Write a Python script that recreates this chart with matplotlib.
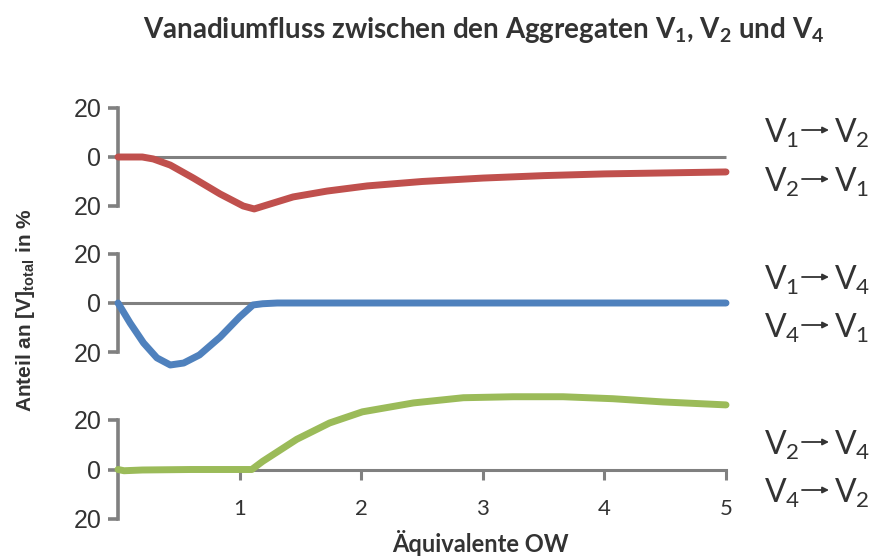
import matplotlib
matplotlib.use("Agg")
import matplotlib.pyplot as plt
from matplotlib.patches import FancyArrowPatch

# flux curves (x = equivalents OW, y = share of total V in %)
x_red = [0, 0.2, 0.29, 0.43, 0.62, 0.84, 1.03, 1.12, 1.25, 1.44, 1.72, 2.05, 2.5, 3.0, 3.5, 4.0, 4.5, 5.0]
y_red = [0, 0, -0.8, -3.3, -8.6, -15.1, -20, -21.2, -19.2, -16.3, -13.9, -11.8, -10.0, -8.6, -7.6, -6.9, -6.5, -6.1]

x_blue = [0, 0.1, 0.21, 0.32, 0.43, 0.54, 0.67, 0.84, 1.0, 1.11, 1.19, 1.31, 5.0]
y_blue = [0, -8.2, -16.3, -22.4, -25.3, -24.5, -21.2, -13.9, -5.7, -0.8, -0.3, 0, 0]

x_green = [0, 0.05, 0.2, 0.6, 1.1, 1.19, 1.47, 1.74, 2.01, 2.43, 2.84, 3.25, 3.66, 4.07, 4.48, 5.0]
y_green = [0, -0.5, -0.2, 0, 0, 3.3, 12.2, 18.8, 23.3, 26.9, 29, 29.4, 29.4, 28.6, 27.3, 26.1]

flux_labels = [("1", "2"), ("2", "1"), ("1", "4"), ("4", "1"), ("2", "4"), ("4", "2")]
xticks = [1, 2, 3, 4, 5]

grey = "#808080"
txt = "#333333"
colors = ["#C0504D", "#4F81BD", "#9BBB59"]

plt.rcParams["mathtext.fontset"] = "custom"
plt.rcParams["mathtext.rm"] = "Lato"
plt.rcParams["mathtext.bf"] = "Lato:bold"

fig = plt.figure(figsize=(8.76, 5.56), dpi=100)
W, H = 876, 556
left, right = 118, 726
panels = [(108, 206), (254, 352), (420, 519)]
curves = [(x_red, y_red), (x_blue, y_blue), (x_green, y_green)]

for i, ((top, bot), (xs, ys)) in enumerate(zip(panels, curves)):
    ax = fig.add_axes([left / W, 1 - bot / H, (right - left) / W, (bot - top) / H])
    ax.set_xlim(0, 5)
    ax.set_ylim(-20, 20)
    for s in ["top", "right", "bottom"]:
        ax.spines[s].set_visible(False)
    ax.spines["left"].set_color(grey)
    ax.spines["left"].set_linewidth(2.6)
    ax.set_yticks([20, 0, -20])
    ax.set_yticklabels(["20", "0", "20"], fontsize=18, color=txt, family="Liberation Sans")
    ax.tick_params(axis="y", length=7, width=2.6, color=grey, pad=5)
    ax.patch.set_alpha(0)
    if i < 2:
        # zero line across the panel
        ax.plot([0, 5], [0, 0], color=grey, lw=2.2, zorder=2, clip_on=False,
                solid_capstyle="butt")
        ax.set_xticks([])
    else:
        ax.spines["bottom"].set_visible(True)
        ax.spines["bottom"].set_position(("data", 0))
        ax.spines["bottom"].set_color(grey)
        ax.spines["bottom"].set_linewidth(2.2)
        ax.set_xticks(xticks)
        ax.set_xticklabels([str(t) for t in xticks], fontsize=16, color=txt, family="Lato")
        ax.tick_params(axis="x", length=7, width=2.2, color=grey, pad=14)
    ax.plot(xs, ys, color=colors[i], lw=5, zorder=3, clip_on=False,
            solid_capstyle="round", solid_joinstyle="round")

# flux labels on the right: V_a -> V_b
label_base = [143, 192, 290, 338, 455, 503]
for (a, b), yp in zip(flux_labels, label_base):
    yb = 1 - yp / H
    fig.text(764 / W, yb, r"V$_{%s}$" % a, fontsize=23, color=txt, family="Lato",
             va="baseline", ha="left")
    fig.text(834 / W, yb, r"V$_{%s}$" % b, fontsize=23, color=txt, family="Lato",
             va="baseline", ha="left")
    ya = 1 - (yp - 13) / H
    fig.add_artist(FancyArrowPatch((802 / W, ya), (829 / W, ya), transform=fig.transFigure,
                                   arrowstyle="-|>", mutation_scale=9, lw=1.3,
                                   color=txt, shrinkA=0, shrinkB=0))

fig.text(484 / W, 1 - 30 / H, r"Vanadiumfluss zwischen den Aggregaten V$_{\mathbf{1}}$, V$_{\mathbf{2}}$ und V$_{\mathbf{4}}$",
         fontsize=20, fontweight="bold", color=txt, family="Lato", ha="center", va="center")
fig.text(480 / W, 1 - 543 / H, "Äquivalente OW", fontsize=17, fontweight="bold",
         color=txt, family="Lato", ha="center", va="center")
fig.text(26 / W, 1 - 310 / H, r"Anteil an [V]$_{\mathregular{total}}$ in %", fontsize=15,
         fontweight="bold", color=txt, family="Liberation Sans", rotation=90,
         ha="center", va="center")

fig.savefig("out.png", dpi=100)
